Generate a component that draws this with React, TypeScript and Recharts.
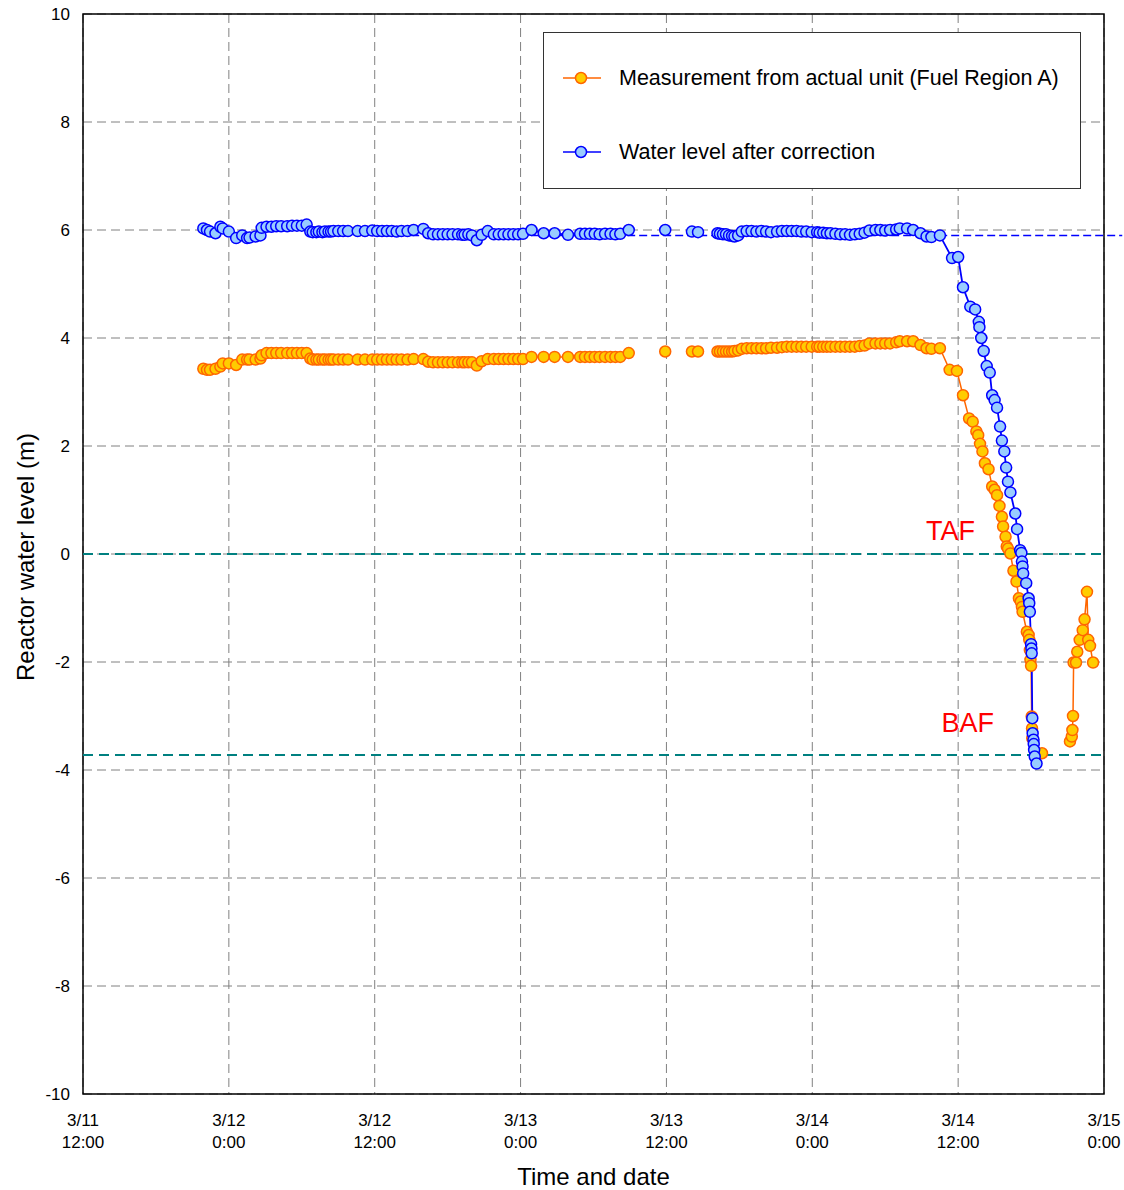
import React from "react";
import {
  LineChart,
  Line,
  XAxis,
  YAxis,
  CartesianGrid,
  ReferenceLine,
  ReferenceArea,
  Legend,
  Label,
} from "recharts";

const FONT = '"Liberation Sans", Arial, sans-serif';

// time axis is in hours counted from 3/11 0:00
const timeTicks = [12, 24, 36, 48, 60, 72, 84, 96];
const levelTicks = [-10, -8, -6, -4, -2, 0, 2, 4, 6, 8, 10];

const TAF_LEVEL = 0;
const BAF_LEVEL = -3.72;
const correctedGuide = 5.9;
const correctedGuideFrom = 39;

// readings taken before the level started to fall (same clock for both channels)
const flatTimes = [
  21.9, 22.2, 22.45, 22.9, 23.3, 23.5, 24.0, 24.6, 25.1, 25.5,
  25.7, 26.2, 26.6, 26.7, 27.1, 27.5, 27.9, 28.3, 28.8, 29.2,
  29.6, 30.0, 30.4, 30.7, 30.9, 31.2, 31.4, 31.7, 31.9, 32.2,
  32.4, 32.6, 33.0, 33.4, 33.8, 34.6, 35.2, 35.8, 36.2, 36.6,
  37.0, 37.4, 37.8, 38.2, 38.7, 39.2, 40.0, 40.4, 40.8, 41.2,
  41.6, 42.0, 42.4, 42.85, 43.2, 43.4, 43.7, 44.0, 44.4, 44.8,
  45.3, 45.8, 46.2, 46.6, 47.0, 47.4, 47.8, 48.2, 48.9, 49.9,
  50.8, 51.9, 52.9, 53.3, 53.7, 54.1, 54.5, 54.95, 55.4, 55.8,
  56.2, 56.9, 58.4, 59.9, 61.0, 62.1, 62.6, 63.4, 64.2, 64.4,
  64.65, 64.9, 65.15, 65.4, 65.6, 65.9, 66.2, 66.6, 67.0, 67.4,
  67.8, 68.2, 68.6, 69.1, 69.5, 69.9, 70.3, 70.7, 71.1, 71.5,
  71.95, 72.4, 72.6, 72.9, 73.2, 73.5, 73.9, 74.3, 74.7, 75.1,
  75.5, 75.9, 76.3, 76.7, 77.2, 77.6, 78.0, 78.4, 78.9, 79.2,
  79.8, 80.3, 80.9, 81.4, 81.8, 82.5,
];

const fuelFlatLevels = [
  3.43, 3.41, 3.41, 3.43, 3.47, 3.53, 3.53, 3.5, 3.6, 3.6,
  3.6, 3.6, 3.62, 3.68, 3.72, 3.72, 3.72, 3.72, 3.72, 3.72,
  3.72, 3.72, 3.72, 3.62, 3.6, 3.6, 3.6, 3.6, 3.6, 3.6,
  3.6, 3.6, 3.6, 3.6, 3.6, 3.6, 3.6, 3.6, 3.6, 3.6,
  3.6, 3.6, 3.6, 3.6, 3.6, 3.61, 3.61, 3.56, 3.55, 3.55,
  3.55, 3.55, 3.55, 3.55, 3.55, 3.55, 3.55, 3.55, 3.49, 3.57,
  3.61, 3.61, 3.61, 3.61, 3.61, 3.61, 3.61, 3.61, 3.65, 3.65,
  3.65, 3.65, 3.65, 3.65, 3.65, 3.65, 3.65, 3.65, 3.65, 3.65,
  3.65, 3.72, null, 3.75, null, 3.75, 3.75, null, 3.75, 3.75,
  3.75, 3.75, 3.75, 3.75, 3.76, 3.77, 3.8, 3.81, 3.81, 3.81,
  3.81, 3.81, 3.82, 3.82, 3.83, 3.84, 3.84, 3.84, 3.84, 3.84,
  3.84, 3.84, 3.84, 3.84, 3.84, 3.84, 3.84, 3.84, 3.84, 3.84,
  3.84, 3.85, 3.86, 3.9, 3.9, 3.9, 3.9, 3.9, 3.92, 3.94,
  3.94, 3.94, 3.87, 3.81, 3.8, 3.81,
];

const correctedFlatLevels = [
  6.03, 6.0, 5.97, 5.94, 6.06, 6.03, 5.97, 5.85, 5.9, 5.85,
  5.86, 5.88, 5.9, 6.04, 6.06, 6.06, 6.07, 6.07, 6.07, 6.08,
  6.08, 6.08, 6.1, 5.97, 5.96, 5.96, 5.97, 5.96, 5.97, 5.97,
  5.97, 5.98, 5.98, 5.98, 5.98, 5.98, 5.98, 5.99, 5.98, 5.98,
  5.98, 5.98, 5.97, 5.98, 5.98, 6.0, 6.02, 5.94, 5.92, 5.92,
  5.92, 5.92, 5.92, 5.92, 5.91, 5.91, 5.92, 5.9, 5.81, 5.91,
  5.98, 5.92, 5.92, 5.92, 5.92, 5.92, 5.92, 5.93, 6.0, 5.94,
  5.94, 5.91, 5.93, 5.93, 5.93, 5.93, 5.92, 5.93, 5.93, 5.92,
  5.93, 6.0, null, 6.0, null, 5.97, 5.96, null, 5.94, 5.93,
  5.92, 5.92, 5.9, 5.89, 5.88, 5.9, 5.97, 5.98, 5.98, 5.97,
  5.98, 5.97, 5.96, 5.97, 5.98, 5.98, 5.98, 5.98, 5.97, 5.97,
  5.96, 5.96, 5.95, 5.95, 5.94, 5.94, 5.93, 5.92, 5.92, 5.91,
  5.92, 5.93, 5.95, 5.99, 6.0, 6.0, 5.99, 6.0, 6.01, 6.03,
  6.03, 6.0, 5.94, 5.88, 5.87, 5.9,
];

// falling level, 3/14 midday onwards
const fuelDropTimes = [
  83.3, 83.9, 84.4, 84.9, 85.2, 85.5, 85.65, 85.8, 86.0, 86.2,
  86.5, 86.8, 87.0, 87.2, 87.4, 87.6, 87.7, 87.9, 88.0, 88.1,
  88.3, 88.55, 88.8, 89.0, 89.15, 89.25, 89.3, 89.65, 89.8, 89.85,
  89.9, 89.95, 90.0, 90.05, 90.08, 90.1, 90.9, 92.0, 93.2, 93.35,
  93.4, 93.45, 93.5, 93.7, 93.8, 94.0, 94.25, 94.4, 94.6, 94.7,
  94.85, 95.1,
];
const fuelDropLevels = [
  3.41, 3.39, 2.94, 2.51, 2.45, 2.27, 2.2, 2.04, 1.9, 1.68,
  1.57, 1.25, 1.19, 1.09, 0.89, 0.69, 0.51, 0.32, 0.14, 0.1,
  0.01, -0.31, -0.51, -0.82, -0.88, -0.98, -1.07, -1.44, -1.5, -1.59,
  -1.78, -1.96, -2.07, -3.01, -3.23, -3.41, -3.69, null, -3.47, -3.38,
  -3.26, -3.0, -2.01, -2.01, -1.81, -1.59, -1.41, -1.21, -0.7, -1.59,
  -1.7, -2.01,
];

const correctedDropTimes = [
  83.5, 84.0, 84.4, 85.0, 85.4, 85.7, 85.75, 85.9, 86.1, 86.35,
  86.6, 86.8, 87.0, 87.2, 87.45, 87.6, 87.8, 87.95, 88.1, 88.3,
  88.7, 88.85, 89.1, 89.2, 89.25, 89.3, 89.35, 89.6, 89.8, 89.85,
  89.9, 90.0, 90.03, 90.05, 90.1, 90.13, 90.2, 90.22, 90.25, 90.3,
  90.45,
];
const correctedDropLevels = [
  5.48, 5.5, 4.94, 4.58, 4.53, 4.3, 4.2, 4.0, 3.76, 3.48,
  3.36, 2.94, 2.85, 2.71, 2.36, 2.1, 1.9, 1.6, 1.34, 1.14,
  0.75, 0.46, 0.07, 0.02, -0.14, -0.23, -0.36, -0.54, -0.82, -0.91,
  -1.07, -1.67, -1.75, -1.84, -3.04, -3.32, -3.44, -3.52, -3.63, -3.75,
  -3.88,
];

const toPoints = (times: number[], levels: (number | null)[]) =>
  times.map((t, i) => ({ t, v: levels[i] }));

const fuelSeries = toPoints(
  [...flatTimes, ...fuelDropTimes],
  [...fuelFlatLevels, ...fuelDropLevels]
);
const correctedSeries = toPoints(
  [...flatTimes, ...correctedDropTimes],
  [...correctedFlatLevels, ...correctedDropLevels]
);

const legendItems = [
  { label: "Measurement from actual unit (Fuel Region A)", stroke: "#FF6600", fill: "#FFCC00" },
  { label: "Water level after correction", stroke: "#0000FF", fill: "#99CCFF" },
];

function LegendBox() {
  return (
    <div
      style={{
        width: 538,
        height: 157,
        border: "1px solid #333",
        boxSizing: "border-box",
        background: "#fff",
        position: "relative",
        fontFamily: FONT,
      }}
    >
      {legendItems.map((it, i) => (
        <div
          key={it.label}
          style={{
            position: "absolute",
            left: 19,
            top: i === 0 ? 33 : 107,
            height: 24,
            display: "flex",
            alignItems: "center",
            whiteSpace: "nowrap",
          }}
        >
          <svg width={38} height={24}>
            <line x1={0} y1={12} x2={38} y2={12} stroke={it.stroke} strokeWidth={1.5} />
            <circle cx={18} cy={12} r={5.5} fill={it.fill} stroke={it.stroke} strokeWidth={1.5} />
          </svg>
          <span style={{ marginLeft: 18, fontSize: 21.5, color: "#000" }}>{it.label}</span>
        </div>
      ))}
    </div>
  );
}

function TimeTick(props: any) {
  const { x, y, payload } = props;
  const t = payload.value;
  const day = 11 + Math.floor(t / 24);
  const hour = t % 24;
  return (
    <text x={x} y={y} textAnchor="middle" fontSize={17} fill="#000" fontFamily={FONT}>
      <tspan x={x} dy={24}>{`3/${day}`}</tspan>
      <tspan x={x} dy={22}>{`${hour}:00`}</tspan>
    </text>
  );
}

const levelLabel = (text: string, fromRight: number, above: number) => (props: any) => {
  const { viewBox } = props;
  return (
    <text
      x={viewBox.x + viewBox.width - fromRight}
      y={viewBox.y - above}
      textAnchor="end"
      fontSize={27}
      fill="#FF0000"
      fontFamily={FONT}
    >
      {text}
    </text>
  );
};

export default function App() {
  return (
    <div style={{ fontFamily: FONT, width: 1124, height: 1190 }}>
      <style>{"body { margin: 0; overflow: hidden; }"}</style>
      <LineChart width={1124} height={1190} margin={{ top: 14, right: 20, left: 0, bottom: 0 }}>
        <CartesianGrid stroke="#808080" strokeDasharray="9 5" />
        <XAxis
          type="number"
          dataKey="t"
          domain={[12, 96]}
          ticks={timeTicks}
          interval={0}
          allowDataOverflow
          axisLine={false}
          tickLine={false}
          tickSize={6}
          tickMargin={2}
          height={96}
          tick={<TimeTick />}
        >
          <Label
            content={(p: any) => (
              <text
                x={p.viewBox.x + p.viewBox.width / 2}
                y={p.viewBox.y + 91}
                textAnchor="middle"
                fontSize={24}
                fill="#000"
                fontFamily={FONT}
              >
                Time and date
              </text>
            )}
          />
        </XAxis>
        <YAxis
          type="number"
          domain={[-10, 10]}
          ticks={levelTicks}
          interval={0}
          allowDataOverflow
          axisLine={false}
          tickLine={false}
          tickSize={6}
          tickMargin={7}
          width={83}
          tick={{ fontSize: 17, fill: "#000", fontFamily: FONT }}
        >
          <Label
            content={(p: any) => {
              const cx = p.viewBox.x + 25;
              const cy = p.viewBox.y + p.viewBox.height / 2 + 3;
              return (
                <text
                  x={cx}
                  y={cy}
                  transform={`rotate(-90 ${cx} ${cy})`}
                  textAnchor="middle"
                  dominantBaseline="central"
                  fontSize={24}
                  fill="#000"
                  fontFamily={FONT}
                >
                  Reactor water level (m)
                </text>
              );
            }}
          />
        </YAxis>
        <ReferenceArea x1={12} x2={96} y1={-10} y2={10} fill="none" stroke="#000" strokeWidth={1.5} />
        <ReferenceLine
          y={TAF_LEVEL}
          stroke="#008080"
          strokeWidth={2}
          strokeDasharray="10 6"
          label={levelLabel("TAF", 129, 14)}
        />
        <ReferenceLine
          y={BAF_LEVEL}
          stroke="#008080"
          strokeWidth={2}
          strokeDasharray="10 6"
          label={levelLabel("BAF", 110, 23)}
        />
        <Line
          data={fuelSeries}
          dataKey="v"
          type="linear"
          stroke="#FF6600"
          strokeWidth={1.5}
          dot={{ r: 5.5, fill: "#FFCC00", stroke: "#FF6600", strokeWidth: 1.5 }}
          activeDot={false}
          isAnimationActive={false}
        />
        <Line
          data={correctedSeries}
          dataKey="v"
          type="linear"
          stroke="#0000FF"
          strokeWidth={1.8}
          dot={{ r: 5.5, fill: "#99CCFF", stroke: "#0000FF", strokeWidth: 1.5 }}
          activeDot={false}
          isAnimationActive={false}
        />
        <ReferenceLine
          segment={[
            { x: correctedGuideFrom, y: correctedGuide },
            { x: 97.5, y: correctedGuide },
          ]}
          ifOverflow="visible"
          stroke="#0000FF"
          strokeWidth={1.5}
          strokeDasharray="8 4"
        />
        <Legend
          layout="horizontal"
          verticalAlign="middle"
          align="center"
          content={() => <LegendBox />}
          wrapperStyle={{ left: 543, top: 32, width: 538, height: 157 }}
        />
      </LineChart>
    </div>
  );
}
